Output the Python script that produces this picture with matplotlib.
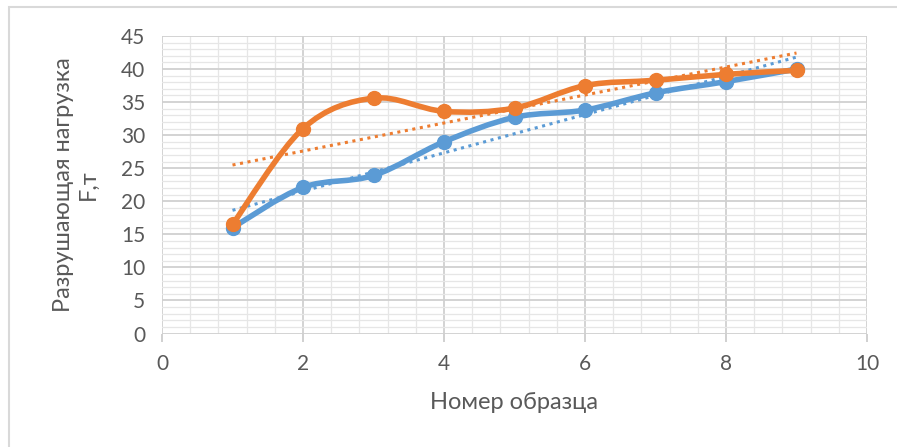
import numpy as np
import matplotlib
matplotlib.use("Agg")
import matplotlib.pyplot as plt
from matplotlib.path import Path
from matplotlib.patches import PathPatch, Rectangle
from matplotlib.ticker import MultipleLocator

plt.rcParams['font.family'] = ['Lato', 'DejaVu Sans']

sample = [1, 2, 3, 4, 5, 6, 7, 8, 9]
load_blue = [16.0, 22.1, 23.9, 29.0, 32.7, 33.8, 36.4, 38.1, 40.0]
load_orange = [16.5, 31.0, 35.6, 33.6, 34.1, 37.5, 38.3, 39.2, 39.8]

blue = '#5B9BD5'
orange = '#ED7D31'
text_col = '#595959'


def smooth_path(xs, ys):
    # cubic bezier through the points (smoothed line, as in spreadsheet charts)
    p = np.column_stack([xs, ys]).astype(float)
    ext = np.vstack([p[0], p, p[-1]])
    verts = [p[0]]
    codes = [Path.MOVETO]
    for i in range(len(p) - 1):
        p0, p1, p2, p3 = ext[i], ext[i + 1], ext[i + 2], ext[i + 3]
        c1 = p1 + (p2 - p0) / 6
        c2 = p2 - (p3 - p1) / 6
        verts += [c1, c2, p2]
        codes += [Path.CURVE4] * 3
    return Path(verts, codes)


fig = plt.figure(figsize=(8.97, 4.47), dpi=100)
ax = fig.add_axes([162 / 897, 1 - 333.5 / 447, (867 - 162) / 897, (333.5 - 36) / 447])

ax.set_xlim(0, 10)
ax.set_ylim(0, 45)
ax.xaxis.set_major_locator(MultipleLocator(2))
ax.xaxis.set_minor_locator(MultipleLocator(0.4))
ax.yaxis.set_major_locator(MultipleLocator(5))
ax.yaxis.set_minor_locator(MultipleLocator(1))
ax.grid(which='major', color='#D0D0D0', linewidth=1.3, zorder=0)
ax.grid(which='minor', color='#E6E6E6', linewidth=0.9, zorder=0)
ax.set_axisbelow(True)
for s in ax.spines.values():
    s.set_visible(False)
ax.tick_params(axis='x', which='major', length=6, color='#C8C8C8', width=1.2,
               labelsize=15, labelcolor=text_col, pad=9)
ax.tick_params(axis='x', which='minor', length=0)
ax.tick_params(axis='y', which='both', length=0, labelsize=15, labelcolor=text_col, pad=12)

# linear trend lines
xt = np.array([sample[0], sample[-1]])
for ys, col in [(load_orange, orange), (load_blue, blue)]:
    k, b = np.polyfit(sample, ys, 1)
    ax.plot(xt, k * xt + b, linestyle=(0, (1, 1.5)), color=col, linewidth=2.2,
            dash_capstyle='butt', zorder=3)

for ys, col in [(load_blue, blue), (load_orange, orange)]:
    ax.add_patch(PathPatch(smooth_path(sample, ys), facecolor='none', edgecolor=col,
                           linewidth=4, capstyle='round', joinstyle='round', zorder=4))
    ax.plot(sample, ys, 'o', color=col, markersize=10, zorder=5)

ax.set_xlabel('Номер образца', fontsize=17, color=text_col, labelpad=13)
ax.set_ylabel('Разрушающая нагрузка\nF,т', fontsize=17, color=text_col, labelpad=16,
              linespacing=1.25)

# chart border
fig.patches.append(Rectangle((9 / 897, -0.1), 1.2, 1.1 - 7 / 447, transform=fig.transFigure,
                             fill=False, edgecolor='#D9D9D9', linewidth=1.5))

fig.savefig('out.png', dpi=100)
